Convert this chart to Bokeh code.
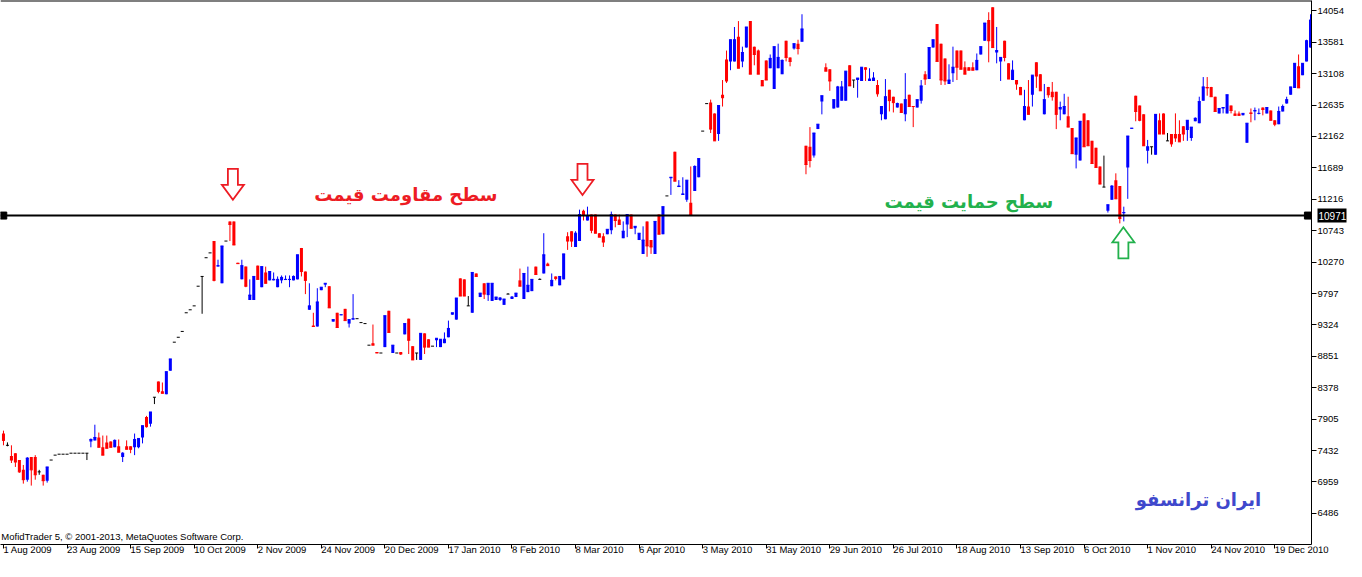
from bokeh.plotting import figure
from bokeh.models import Range1d, FixedTicker, Span, ColumnDataSource, LinearAxis
from bokeh.embed import file_html
from bokeh.resources import INLINE
from bokeh.core.properties import value

# ---------------- data ----------------
date_labels = ["1 Aug 2009", "23 Aug 2009", "15 Sep 2009", "10 Oct 2009", "2 Nov 2009",
               "24 Nov 2009", "20 Dec 2009", "17 Jan 2010", "8 Feb 2010", "8 Mar 2010",
               "6 Apr 2010", "3 May 2010", "31 May 2010", "29 Jun 2010", "26 Jul 2010",
               "18 Aug 2010", "13 Sep 2010", "6 Oct 2010", "1 Nov 2010", "24 Nov 2010",
               "19 Dec 2010"]
bars_per_label = 16

price_ticks = [6486, 6959, 7432, 7905, 8378, 8851, 9324, 9797, 10270, 10743, 11216,
               11689, 12162, 12635, 13108, 13581, 14054]
level_price = 10971

opens = [7688,7511,7348,7392,7289,7141,6993,7333,7333,7111,7067,6978,7289,7363,7377,7377,7377,7392,7392,7392,
7392,7392,7570,7585,7629,7481,7555,7570,7481,7496,7333,7496,7496,7481,7481,7629,7939,7836,8235,8472,
8324,8280,8635,9064,9138,9226,9507,9552,9611,9907,10054,10336,10409,10587,10202,9951,10587,10883,10883,10260,
10010,10202,9699,9699,10217,9892,10114,9995,9995,9892,9995,10000,10000,9995,10010,10483,10128,9552,9315,9300,
9847,9930,9907,9374,9507,9470,9566,9344,9404,9418,9359,9344,9019,9049,8916,8901,8990,9537,8901,8901,
8916,9182,9418,9004,8901,8797,9197,9108,9004,9093,8990,9049,9138,9478,9404,10025,10010,9611,9507,10099,
9744,9951,9773,9685,9699,9699,9626,9788,9714,9744,9995,9714,9818,9833,10202,10010,10099,10247,9907,10054,
9921,10010,10661,10735,10498,10587,11045,10897,10986,10986,10705,10661,10690,10750,10986,10912,10631,10838,10986,10779,
10602,10394,10883,10602,10394,10986,10690,11267,11534,11933,11400,11282,11208,11164,11341,11548,12243,12657,12672,12510,
12199,12791,13323,13293,13293,13663,13293,13501,13900,13515,13456,13012,13308,13190,12879,13190,13101,13604,13353,13486,
13560,13589,12022,12007,11874,12273,12687,13205,13175,12584,12598,12702,12702,13234,13012,13012,12998,13205,12998,12998,
12938,12495,12421,12865,12761,12598,12657,12495,12791,12620,12598,12702,13101,13027,13501,13855,13560,13338,12953,13116,
13456,13456,13205,13205,13205,13160,13397,13604,13915,14107,13427,13293,13604,13264,13012,13012,12909,12406,12613,12791,
13279,13101,12495,12909,12835,12835,12569,12495,12465,12288,11888,11800,12510,12406,12096,11992,11711,11400,11045,11208,
11504,11415,11005,11696,12280,12776,12628,12495,11948,12007,11888,12406,12510,12096,12199,12199,12199,12317,12258,12140,
12391,12362,12702,12909,12909,12761,12510,12584,12510,12628,12510,12510,12480,12066,12524,12539,12505,12598,12510,12554,
12406,12347,12539,12657,12791,12894,13219,13086,13293,13501]

highs = [7732,7555,7511,7392,7289,7215,7333,7333,7363,7141,7067,7185,7289,7363,7377,7377,7377,7392,7392,7392,
7392,7392,7614,7821,7703,7658,7658,7570,7599,7599,7407,7585,7496,7688,7614,7806,7954,8013,8235,8472,
8457,8620,8812,9064,9138,9226,9507,9552,9611,9907,10054,10336,10409,10587,10306,10513,10587,10883,10883,10260,
10306,10202,10010,10054,10217,10202,10202,10128,10114,10054,10069,10069,10069,10069,10380,10483,10128,9951,9507,9877,
9892,9951,9907,9404,9507,9478,9566,9404,9788,9418,9359,9344,9019,9330,8916,8901,9463,9537,9019,8901,
8916,9344,9418,9004,8901,9197,9197,9108,9004,9123,9108,9211,9389,9507,9729,10025,10010,9759,10114,10099,
9803,9951,9951,9951,9744,9744,9714,9803,9759,9803,10173,10099,10202,10010,10202,10025,10705,10262,10099,10054,
10054,10394,10720,10735,10735,11060,11060,11105,10986,10986,10705,10705,10764,11031,10986,10986,10883,10986,10986,10809,
10705,10809,10883,10602,10883,10986,11105,11267,11548,11933,11504,11548,11504,11711,11726,11829,12243,12657,12717,12510,
12628,13012,13456,13619,13811,13900,13515,13811,13900,13515,13471,13012,13308,13397,13515,13560,13323,13604,13353,13560,
13619,14003,12022,12303,12214,12347,12776,13264,13175,12717,12924,12998,13146,13234,13012,13042,13205,13205,13190,13131,
13012,12613,13027,12865,12761,12672,12657,13116,12791,12620,12717,13012,13146,13501,13619,13855,13560,13338,13249,13515,
13456,13456,13293,13205,13279,13412,13515,13870,14033,14107,13811,13353,13604,13264,13308,13012,12909,12865,13012,13086,
13279,13101,12953,12909,12983,12835,12687,12805,12761,12288,12140,12391,12510,12406,12096,11992,11711,11874,11134,11430,
11607,11415,11105,12169,12288,12776,12628,12495,12110,12007,12495,12510,12510,12214,12199,12510,12406,12317,12406,12303,
12450,12761,13057,13057,12909,12761,12584,12598,12791,12628,12554,12539,12510,12362,12584,12598,12584,12598,12598,12554,
12406,12613,12643,12761,12909,13264,13397,13264,13619,14003]

lows = [7511,7496,7244,7185,7096,6934,6963,6904,6993,7067,6904,6949,7289,7363,7377,7377,7377,7392,7392,7392,
7392,7289,7481,7585,7481,7363,7466,7481,7481,7407,7259,7451,7392,7363,7466,7540,7777,7792,8132,8294,
8294,8280,8635,9064,9138,9226,9507,9552,9611,9907,9492,10336,10409,9980,10202,9951,10587,10587,10528,10247,
10010,9892,9699,9699,10010,9892,9951,9995,9995,9892,9951,10000,9892,9995,10010,10054,9788,9552,9300,9300,
9847,9892,9581,9374,9285,9470,9389,9285,9404,9418,9359,9344,9019,9019,8901,8901,8990,9211,8901,8901,
8871,9182,8886,8797,8797,8797,8886,8990,9004,8990,8990,9049,9138,9478,9404,9759,9759,9611,9507,10054,
9744,9714,9685,9685,9699,9685,9626,9788,9714,9744,9907,9714,9818,9833,10084,10010,10099,10217,9907,9995,
9921,10010,10454,10498,10498,10587,10897,10897,10705,10705,10646,10498,10690,10690,10794,10838,10631,10646,10779,10690,
10602,10394,10350,10394,10394,10690,10690,11267,11282,11489,11400,11282,11178,10986,11341,11548,12243,12657,12214,12096,
12096,12613,12968,13160,13293,13190,13205,13501,13101,13234,13101,12924,13012,13190,12879,13190,13101,13293,13219,13471,
13397,13589,11593,11696,11844,12273,12495,13146,12850,12584,12598,12702,12702,12924,12894,12746,12998,12998,12998,12998,
12761,12406,12421,12539,12524,12598,12524,12391,12613,12303,12598,12657,12938,13027,13501,13293,12938,12938,12953,12983,
13012,13175,13101,13160,13160,13160,13397,13604,13279,13501,13264,12998,13293,13027,13012,12865,12791,12406,12495,12613,
12894,12850,12495,12746,12702,12273,12406,12495,12303,11903,11681,11800,12007,12022,11755,11696,11445,11400,11016,11208,
11223,10853,10883,11223,12280,12391,12391,12022,11755,11888,11888,12199,12199,12096,12007,12081,12081,12096,12096,12096,
12391,12362,12702,12776,12761,12539,12510,12510,12510,12510,12480,12480,12480,12066,12376,12406,12495,12480,12510,12406,
12317,12347,12539,12657,12791,12894,12894,13086,13293,13501]

closes = [7585,7511,7289,7259,7111,6993,7318,7141,7067,7111,6978,7185,7289,7363,7377,7377,7377,7392,7392,7392,
7392,7392,7599,7629,7481,7363,7466,7481,7585,7407,7392,7451,7451,7599,7614,7806,7792,8013,8235,8324,
8294,8620,8812,9064,9138,9226,9507,9552,9611,9907,10054,10336,10409,9995,10217,10513,10587,10838,10528,10247,
10217,9907,9773,10054,10010,10202,9951,10128,10010,10010,10040,10010,10010,10054,10380,10128,9995,9611,9300,9670,
9892,9951,9581,9404,9285,9478,9389,9404,9418,9418,9359,9344,9019,9019,8901,8901,9463,9211,9019,8901,
8886,9344,9093,8797,8901,9197,8990,8990,9004,9123,9108,9108,9271,9507,9729,9759,9759,9611,10114,10054,
9803,9788,9951,9951,9744,9729,9714,9788,9744,9803,9907,10099,9921,10010,10084,10010,10380,10217,9995,10025,
10054,10394,10587,10587,10705,10986,10986,10971,10750,10705,10646,10572,10764,10986,10897,10838,10735,10986,10779,10809,
10705,10602,10513,10498,10883,10690,11105,11267,11548,11489,11415,11297,11504,10986,11711,11829,12243,12657,12273,12096,
12628,12746,12998,13619,13619,13190,13427,13811,13101,13397,13101,12924,13012,13338,13515,13353,13308,13353,13293,13560,
13486,13782,11740,11800,12214,12347,12776,13146,12998,12717,12909,12909,13146,12924,13012,13042,13205,13175,13027,13042,
12805,12613,12761,12702,12672,12657,12524,12717,12613,12613,12717,12924,13027,13501,13619,13293,13012,12998,13012,13205,
13205,13175,13101,13160,13160,13308,13515,13870,13604,13501,13456,13353,13353,13027,13160,12953,12791,12613,12495,13086,
13072,12850,12717,12791,12761,12495,12598,12613,12303,11903,12140,12391,12007,12022,11755,11696,11445,11400,11134,11415,
11223,10927,11016,12169,12288,12539,12406,12022,12007,12007,12495,12199,12199,12096,12051,12140,12081,12199,12406,12303,
12436,12687,12909,12894,12761,12539,12584,12598,12791,12554,12480,12480,12510,12362,12510,12554,12510,12569,12598,12406,
12347,12539,12613,12717,12909,13264,12894,13264,13604,13915]

resistance_text = "سطح مقاومت قیمت"
support_text = "سطح حمایت قیمت"
brand_text = "ایران ترانسفو"
copyright_text = "MofidTrader 5, \u00a9 2001-2013, MetaQuotes Software Corp."

# ---------------- figure ----------------
n = len(opens)
x0, x1 = -0.75, n - 0.75
y0, y1 = 6017, 14210
FW, FH = 1311, 544
px_x = (x1 - x0) / FW
px_y = (y1 - y0) / FH

p = figure(frame_width=FW, frame_height=FH, min_border_left=0, min_border_top=0,
           min_border_right=35, min_border_bottom=17,
           x_range=Range1d(x0, x1), y_range=Range1d(y0, y1),
           y_axis_location="right", output_backend="svg", toolbar_location=None)
p.outline_line_color = None
p.xgrid.visible = False
p.ygrid.visible = False
p.background_fill_color = "white"
p.border_fill_color = "white"

xs = list(range(n))
colors = []
for o, c in zip(opens, closes):
    colors.append("#0000ff" if c > o else ("#ff0000" if c < o else "#000000"))
src = ColumnDataSource(dict(
    x=xs, o=opens, h=highs, l=lows, c=closes,
    top=[max(o, c) for o, c in zip(opens, closes)],
    bot=[min(o, c) for o, c in zip(opens, closes)],
    xl=[i - 0.38 for i in xs], xr=[i + 0.38 for i in xs],
    color=colors))

p.segment(x0="x", y0="h", x1="x", y1="l", line_color="color", line_width=1, source=src)
p.vbar(x="x", width=0.76, top="top", bottom="bot", fill_color="color", line_color=None, source=src)
p.segment(x0="xl", y0="c", x1="xr", y1="c", line_color="color", line_width=1, source=src)

# level line and frame top line
p.add_layout(Span(location=level_price, dimension="width", line_color="black", line_width=2))
p.add_layout(Span(location=y1, dimension="width", line_color="black", line_width=2))
p.scatter(x=[x0 + 0.7, x1 - 0.9], y=[level_price, level_price], marker="square", size=7,
          color="black")

# axes
p.yaxis.ticker = FixedTicker(ticks=price_ticks)
p.yaxis.axis_line_color = "black"
p.yaxis.major_tick_in = 0
p.yaxis.major_tick_out = 5
p.yaxis.minor_tick_line_color = None
p.yaxis.major_label_standoff = 1
p.yaxis.major_label_text_font = "Liberation Sans"
p.yaxis.major_label_text_font_size = "9.5px"
p.yaxis.major_label_text_color = "black"

# price tag on the right scale (outer axis whose ticks point back over the scale)
tag_axis = LinearAxis(ticker=FixedTicker(ticks=[level_price]), axis_line_color=None,
                      major_tick_in=29, major_tick_out=0, major_tick_line_width=14,
                      major_tick_line_color="black", minor_tick_line_color=None,
                      major_label_standoff=-28, major_label_text_color="white",
                      major_label_text_font="Liberation Sans",
                      major_label_text_font_size="10px")
p.add_layout(tag_axis, "right")

xt = [i * bars_per_label for i in range(len(date_labels))]
p.xaxis.ticker = FixedTicker(ticks=xt)
p.xaxis.major_label_overrides = {t: lab for t, lab in zip(xt, date_labels)}
p.xaxis.axis_line_color = "black"
p.xaxis.major_tick_in = 0
p.xaxis.major_tick_out = 4
p.xaxis.minor_tick_line_color = None
p.xaxis.major_label_standoff = 1
p.xaxis.major_label_orientation = -0.0005
p.xaxis.major_label_text_font = "Liberation Sans"
p.xaxis.major_label_text_font_size = "9.5px"
p.xaxis.major_label_text_color = "black"

# texts
def ptext(x, y, t, color, size, font="DejaVu Sans", style="bold", align="center"):
    p.text(x=[x], y=[y], text=[t], text_color=color, text_font=value(font),
           text_font_style=style, text_font_size=size, text_align=align,
           text_baseline="middle")

ptext(101.3, 11282, resistance_text, "#ed1c24", "18px")
ptext(243.0, 11178, support_text, "#22b14c", "18px")
ptext(300.8, 6697, brand_text, "#3f48cc", "18px")
ptext(x0 + 0.2, 6135, copyright_text, "black", "9.5px", font="Liberation Sans", style="normal",
      align="left")

# hollow arrows
def arrow(tx, ty, up, color):
    pts = [(0, 0), (11, 15), (5, 15), (5, 31), (-5, 31), (-5, 15), (-11, 15)]
    s = -1 if up else 1
    ax = [tx + dx * px_x for dx, dy in pts]
    ay = [ty + s * dy * px_y for dx, dy in pts]
    p.patch(ax, ay, fill_color="white", line_color=color, line_width=1.8, line_join="miter")

arrow(57.75, 11208, False, "#ed1c24")
arrow(145.75, 11282, False, "#ed1c24")
arrow(281.9, 10794, True, "#22b14c")

open("out.html", "w").write(file_html(p, INLINE))
